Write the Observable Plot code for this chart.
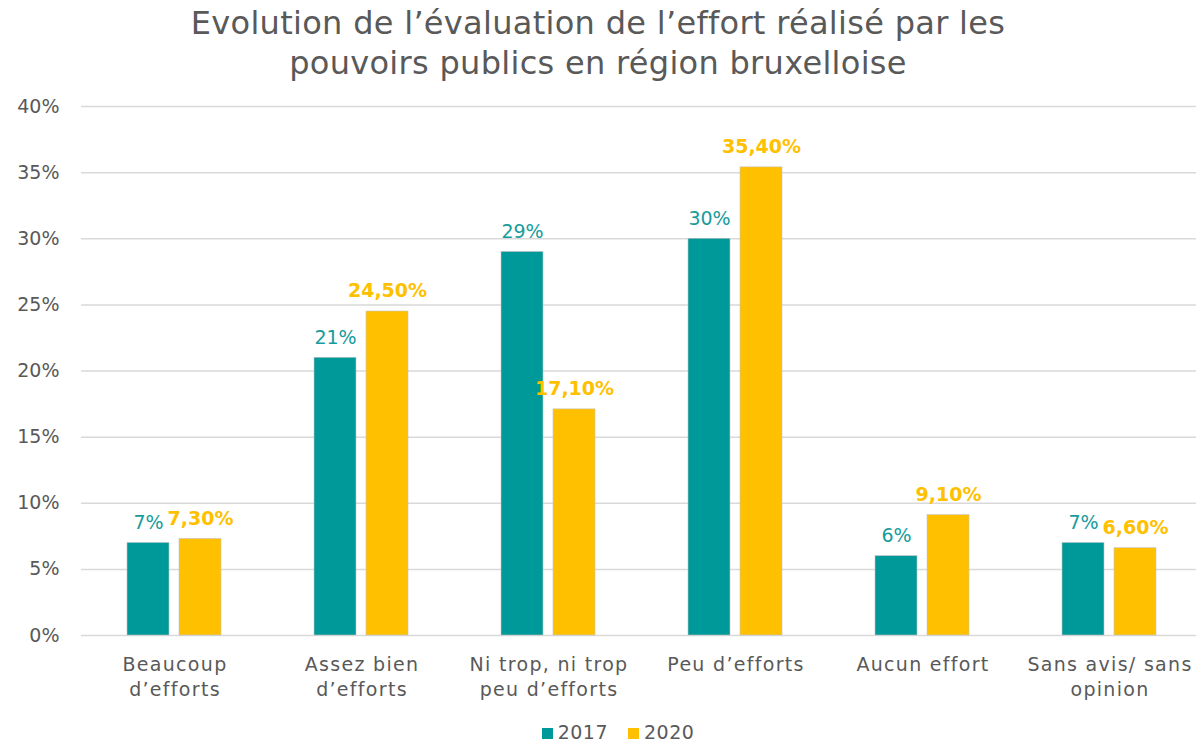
<!DOCTYPE html>
<html>
<head>
<meta charset="utf-8">
<script src="https://cdn.jsdelivr.net/npm/d3@7"></script>
<script src="https://cdn.jsdelivr.net/npm/@observablehq/plot@0.6"></script>
<style>
  body { margin: 0; background: white; font-family: "DejaVu Sans", sans-serif; }
  #title { height: 90px; box-sizing: border-box; padding-top: 3px; text-align: center; color: #595959; font-size: 32px; line-height: 40px; letter-spacing: 0.3px; }
  #legend { height: 46px; box-sizing: border-box; padding-left: 40px; display: flex; justify-content: center; align-items: center; gap: 20px; color: #595959; font-size: 19px; letter-spacing: 0.5px; }
  #legend span.sw { display: inline-block; width: 11px; height: 11px; margin-right: 5px; }
  g[aria-label="fx-axis tick label"] text { letter-spacing: 1.3px; }
</style>
</head>
<body>
<div id="title">Evolution de l’évaluation de l’effort réalisé par les<br>pouvoirs publics en région bruxelloise</div>
<div id="chart"></div>
<div id="legend"></div>
<script>
const categories = ["Beaucoup d’efforts", "Assez bien d’efforts", "Ni trop, ni trop peu d’efforts", "Peu d’efforts", "Aucun effort", "Sans avis/ sans opinion"];
const categoryLabels = ["Beaucoup\nd’efforts", "Assez bien\nd’efforts", "Ni trop, ni trop\npeu d’efforts", "Peu d’efforts", "Aucun effort", "Sans avis/ sans\nopinion"];
const years = ["2017", "2020"];
const values2017 = [7, 21, 29, 30, 6, 7];
const values2020 = [7.3, 24.5, 17.1, 35.4, 9.1, 6.6];
const labels2017 = ["7%", "21%", "29%", "30%", "6%", "7%"];
const labels2020 = ["7,30%", "24,50%", "17,10%", "35,40%", "9,10%", "6,60%"];
const yTicks = [0, 5, 10, 15, 20, 25, 30, 35, 40];
const yTickLabels = ["0%", "5%", "10%", "15%", "20%", "25%", "30%", "35%", "40%"];
const colors = ["#009999", "#FFC000"];

const data = categories.flatMap((c, i) => [
  {cat: c, year: years[0], value: values2017[i], label: labels2017[i]},
  {cat: c, year: years[1], value: values2020[i], label: labels2020[i]}
]);

const chart = Plot.plot({
  width: 1196,
  height: 619,
  marginTop: 16,
  marginBottom: 74,
  marginLeft: 80,
  marginRight: 0,
  style: {fontFamily: "DejaVu Sans, sans-serif", fontSize: "19px", color: "#595959", background: "white"},
  fx: {domain: categories, range: [80, 1203], padding: 0, label: null},
  x: {domain: years, paddingInner: 0.19, paddingOuter: 0.89, axis: null},
  y: {domain: [0, 40], axis: null},
  color: {domain: years, range: colors},
  marks: [
    Plot.ruleY(yTicks, {stroke: "#d9d9d9", strokeWidth: 1.5}),
    Plot.barY(data, {fx: "cat", x: "year", y: "value", fill: "year", stroke: "#c4c4c4", strokeWidth: 0.6}),
    Plot.text(data.filter(d => d.year === years[0]), {fx: "cat", x: "year", y: "value", text: "label", fill: "#169c9c", dy: -14, lineAnchor: "bottom", fontSize: 19}),
    Plot.text(data.filter(d => d.year === years[1]), {fx: "cat", x: "year", y: "value", text: "label", fill: colors[1], dy: -14, lineAnchor: "bottom", fontSize: 19, fontWeight: "bold"}),
    Plot.axisY(yTicks, {tickFormat: d => yTickLabels[yTicks.indexOf(d)], tickSize: 0, tickPadding: 22, fontSize: 19, fill: "#595959", label: null}),
    Plot.axisFx({anchor: "bottom", tickFormat: d => categoryLabels[categories.indexOf(d)], tickSize: 0, tickPadding: 18, lineHeight: 1.3, fontSize: 19, fill: "#595959", label: null})
  ]
});
document.getElementById("chart").appendChild(chart);

const legend = document.getElementById("legend");
years.forEach((y, i) => {
  const item = document.createElement("div");
  item.innerHTML = `<span class="sw" style="background:${colors[i]}"></span>${y}`;
  legend.appendChild(item);
});
</script>
</body>
</html>
